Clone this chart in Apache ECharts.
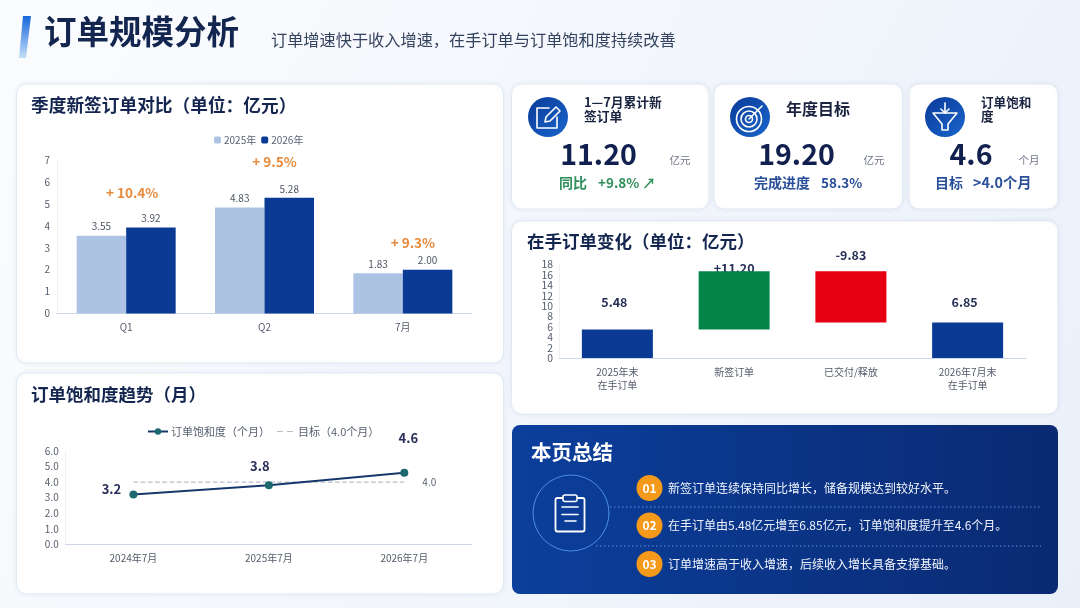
<!DOCTYPE html>
<html><head><meta charset="utf-8">
<style>html,body{margin:0;padding:0;background:#f3f6fb}#c{width:1080px;height:608px}</style>
<script src="https://cdn.jsdelivr.net/npm/echarts@6/dist/echarts.min.js"></script></head>
<body><div id="c"></div>
<script>
const FONT='"Noto Sans CJK SC","Noto Sans",sans-serif';
// Quarterly orders
const quarterCats=['Q1','Q2','7月'];
const orders2025=[3.55,4.83,1.83];
const orders2026=[3.92,5.28,2.00];
const growthLabels=['+ 10.4%','+ 9.5%','+ 9.3%'];
const growthOffsets=[[6,-23],[10,-24],[10,-15]];
// Backlog waterfall
const backlogCats=['2025年末\n在手订单','新签订单','已交付/释放','2026年7月末\n在手订单'];
const backlogBase=[0,5.48,6.85,0];
const backlogBars=[5.48,11.20,9.83,6.85];
const backlogLabels=['5.48','+11.20','-9.83','6.85'];
const backlogColors=['#0b3a94','#05854a','#e60012','#0b3a94'];
const backlogLabelOffsets=[[-3,-16],[0,8],[0,-5],[-3,-9]];
// Saturation trend
const trendCats=['2024年7月','2025年7月','2026年7月'];
const saturation=[3.2,3.8,4.6];
const target=[4.0,4.0,4.0];
const targetEndLabel=[null,null,4.0];
const trendOffsets=[[-22,10],[-9,-4],[4,-19]];

const g=[];
const grad=(x,y,x2,y2,a,b)=>({type:'linear',x,y,x2,y2,colorStops:[{offset:0,color:a},{offset:1,color:b}]});
function T(text,x,y,size,fill,weight,align){g.push({type:'text',z:5,silent:true,style:{text,x,y,fill,font:`${weight||'normal'} ${size}px ${FONT}`,textAlign:align||'left',textVerticalAlign:'middle'}});}
function panel(x,y,w,h){g.push({type:'rect',z:-5,silent:true,shape:{x,y,width:w,height:h,r:10},style:{fill:'#fff',stroke:'#e3e9f2',lineWidth:1,shadowBlur:5,shadowColor:'rgba(70,100,160,.08)'}});}
function S(type,shape,color,lw,fill){g.push({type,z:6,silent:true,shape,style:{fill:fill||'none',stroke:color||'#fff',lineWidth:lw||1.6,lineCap:'round',lineJoin:'round'}});}

// background
g.push({type:'rect',z:-10,silent:true,shape:{x:0,y:0,width:1080,height:608},style:{fill:grad(0,0,1,1,'#fbfcfe','#eaf0fa')}});
// title
g.push({type:'polygon',z:5,silent:true,shape:{points:[[23,16],[31,16],[26,58],[19,58]]},style:{fill:grad(0,0,0,1,'#1668dc','#c4def8')}});
T('订单规模分析',44,32,32.5,'#13264f','bold');
T('订单增速快于收入增速，在手订单与订单饱和度持续改善',271,40,16.2,'#33425e');
// panels
panel(16.5,84,487,279);panel(16.5,373,487,221);
panel(511.5,84,197.5,125);panel(714,84,188.5,125);panel(909,84,149,125);
panel(511.5,221,546.5,193);
T('季度新签订单对比（单位：亿元）',31,105,17.7,'#14264f','bold');
T('订单饱和度趋势（月）',31,394,17.5,'#14264f','bold');
T('在手订单变化（单位：亿元）',527,241,17.5,'#14264f','bold');
// KPI icons
[548,750,945].forEach(cx=>g.push({type:'circle',z:5,silent:true,shape:{cx,cy:117,r:20},style:{fill:grad(0,0,1,1,'#0a3a98','#1a66cc')}}));
S('polyline',{points:[[549,108],[537,108],[537,128],[557,128],[557,117]]});
S('polyline',{points:[[545,122],[546,117],[556,107],[560,111],[550,121],[545,122]]});
S('circle',{cx:749,cy:119,r:12.5});S('circle',{cx:749,cy:119,r:8});S('circle',{cx:749,cy:119,r:3.5});
S('line',{x1:749,y1:119,x2:762,y2:106});
S('polyline',{points:[[933,113],[957,113],[948,124],[948,130],[942,130],[942,124],[933,113]]});
S('polyline',{points:[[945,103],[945,113]]});S('polyline',{points:[[941,109],[945,113],[949,109]]});
// KPI text
T('1—7月累计新',584,102,12.8,'#1a2440','bold');T('签订单',584,116.5,12.8,'#1a2440','bold');
T('年度目标',786,109,16,'#1a2440','bold');
T('订单饱和',981,102,12.6,'#1a2440','bold');T('度',981,116.5,12.6,'#1a2440','bold');
T('11.20',598.5,154,28.5,'#12204f','bold','center');T('亿元',680,160,10.5,'#70778a','normal','center');
T('19.20',796.5,154,28.5,'#12204f','bold','center');T('亿元',874,160,10.5,'#70778a','normal','center');
T('4.6',971,154,28.5,'#12204f','bold','center');T('个月',1029,160,10.5,'#70778a','normal','center');
T('同比',559,183,14,'#2f8f5b','bold');T('+9.8% ↗',598,183,13.5,'#2f8f5b','bold');
T('完成进度',754,183,14,'#2a4f9a','bold');T('58.3%',821,183,13.5,'#2a4f9a','bold');
T('目标',935,183,14,'#2a4f9a','bold');T('>4.0个月',973,183,14.3,'#2a4f9a','bold');
// summary
g.push({type:'rect',z:-5,silent:true,shape:{x:512,y:425,width:546,height:169,r:8},style:{fill:grad(0,0,1,0,'#0b3f9c','#0a2a72')}});
T('本页总结',531,452,20.5,'#ffffff','bold');
S('circle',{cx:571,cy:513,r:38},'#4c8de6',1);
S('rect',{x:555.5,y:498,width:29,height:33.5,r:2},'#fff',1.8);
S('rect',{x:563,y:495,width:14,height:6.5,r:2},'#fff',1.6,'#0b3a90');
S('line',{x1:562,y1:507,x2:578,y2:507},'#fff',1.6);S('line',{x1:562,y1:514.5,x2:578,y2:514.5},'#fff',1.6);S('line',{x1:565,y1:521,x2:576,y2:521},'#fff',1.6);
[507,546].forEach(y=>g.push({type:'line',z:5,silent:true,shape:{x1:y===507?610:596,y1:y,x2:1041,y2:y},style:{stroke:'#5f8fd8',lineWidth:1,lineDash:[1.5,2.5]}}));
[['01',488,'新签订单连续保持同比增长，储备规模达到较好水平。'],['02',525.5,'在手订单由5.48亿元增至6.85亿元，订单饱和度提升至4.6个月。'],['03',564,'订单增速高于收入增速，后续收入增长具备支撑基础。']].forEach(([n,y,t])=>{
  g.push({type:'circle',z:5,silent:true,shape:{cx:649.5,cy:y,r:13},style:{fill:'#f5991a'}});
  T(n,649.5,y,12,'#fff','bold','center');
  T(t,668,y,12,'#f0f4fc');
});

const axisTxt={color:'#555c6b',fontFamily:FONT,fontSize:10};
const lineC={lineStyle:{color:'#cdd6e6',width:1}};
const item=(arr,off,fmt)=>arr.map((v,i)=>({value:v,label:{offset:off[i],formatter:fmt[i]}}));
const hiddenPoint={symbol:'circle',symbolSize:0.1,itemStyle:{color:'transparent'},lineStyle:{opacity:0}};

const option={
 animation:false,
 textStyle:{fontFamily:FONT},
 graphic:{elements:g},
 legend:[
  {data:['2025年','2026年'],left:209,top:130,itemWidth:7,itemHeight:7,itemGap:5,textStyle:{fontSize:10,color:'#5a6272',fontFamily:FONT,padding:[0,0,0,-2]},selectedMode:false},
  {data:['订单饱和度（个月）',{name:'目标（4.0个月）',icon:'path://M0 0L0 0M2 3.4H8V4.6H2ZM12 3.4H18V4.6H12ZM20 8L20 8'}],left:142,top:421,itemWidth:20,itemHeight:8,itemGap:5,textStyle:{fontSize:11,color:'#5a6272',fontFamily:FONT,padding:[0,0,0,-2]},selectedMode:false}
 ],
 grid:[
  {left:57,top:160,width:415,height:153.5},
  {left:559,top:264.5,width:467,height:93.5},
  {left:65.7,top:451,width:406.3,height:93.3}
 ],
 xAxis:[
  {gridIndex:0,type:'category',data:quarterCats,axisTick:{show:false},axisLine:lineC,axisLabel:{...axisTxt,margin:9}},
  {gridIndex:1,type:'category',data:backlogCats,axisTick:{show:false},axisLine:lineC,axisLabel:{...axisTxt,margin:7,lineHeight:13.5}},
  {gridIndex:2,type:'category',data:trendCats,axisTick:{show:false},axisLine:lineC,axisLabel:{...axisTxt,margin:9}}
 ],
 yAxis:[
  {gridIndex:0,type:'value',min:0,max:7,interval:1,splitLine:{show:false},axisTick:{show:false},axisLine:{show:true,lineStyle:{color:'#edf0f6'}},axisLabel:{...axisTxt,margin:7}},
  {gridIndex:1,type:'value',min:0,max:18,interval:2,splitLine:{show:false},axisTick:{show:false},axisLine:{show:true,lineStyle:{color:'#edf0f6'}},axisLabel:{...axisTxt,fontSize:10.4,margin:6,lineHeight:10,showMinLabel:true,showMaxLabel:true,hideOverlap:false}},
  {gridIndex:2,type:'value',min:0,max:6,interval:1,splitLine:{show:false},axisTick:{show:false},axisLine:{show:true,lineStyle:{color:'#edf0f6'}},axisLabel:{...axisTxt,margin:7,formatter:v=>v.toFixed(1)}}
 ],
 series:[
  {name:'2025年',type:'bar',xAxisIndex:0,yAxisIndex:0,data:orders2025,barWidth:49.5,barGap:'0%',itemStyle:{color:'#adc3e4'},label:{show:true,position:'top',distance:4,fontSize:10,color:'#4d5462',formatter:p=>p.value.toFixed(2)}},
  {name:'2026年',type:'bar',xAxisIndex:0,yAxisIndex:0,data:orders2026,barWidth:49.5,itemStyle:{color:'#0b3a94'},label:{show:true,position:'top',distance:4,fontSize:10,color:'#4d5462',formatter:p=>p.value.toFixed(2)}},
  {name:'同比增速',type:'line',xAxisIndex:0,yAxisIndex:0,...hiddenPoint,data:item(orders2026,growthOffsets,growthLabels),label:{show:true,position:'top',fontSize:13.5,fontWeight:'bold',color:'#e88a3c'}},

  {name:'标签',type:'line',z:1,xAxisIndex:1,yAxisIndex:1,...hiddenPoint,data:item(backlogBars.map((v,i)=>v+backlogBase[i]),backlogLabelOffsets,backlogLabels),label:{show:true,position:'top',fontSize:12.5,fontWeight:'bold',color:'#263056'}},
  {name:'base',type:'bar',z:2,xAxisIndex:1,yAxisIndex:1,stack:'w',barWidth:71,data:backlogBase,itemStyle:{color:'transparent'}},
  {name:'变化',type:'bar',z:2,xAxisIndex:1,yAxisIndex:1,stack:'w',barWidth:71,data:backlogBars.map((v,i)=>({value:v,itemStyle:{color:backlogColors[i]}}))},

  {name:'目标（4.0个月）',type:'line',xAxisIndex:2,yAxisIndex:2,data:target,symbol:'none',itemStyle:{color:'#b9bfc9'},lineStyle:{color:'#b9bfc9',type:'dashed',width:1.2}},
  {name:'目标标签',type:'line',xAxisIndex:2,yAxisIndex:2,...hiddenPoint,data:targetEndLabel,label:{show:true,position:'right',distance:18,fontSize:10,color:'#5a6272',formatter:p=>p.value.toFixed(1)}},
  {name:'订单饱和度（个月）',type:'line',xAxisIndex:2,yAxisIndex:2,symbol:'circle',symbolSize:8,itemStyle:{color:'#1c6a70'},lineStyle:{color:'#17386b',width:2},data:item(saturation,trendOffsets,saturation.map(v=>v.toFixed(1))),label:{show:true,position:'top',fontSize:13,fontWeight:'bold',color:'#2a2f5a'}}
 ]
};
echarts.init(document.getElementById('c')).setOption(option);
</script></body></html>
